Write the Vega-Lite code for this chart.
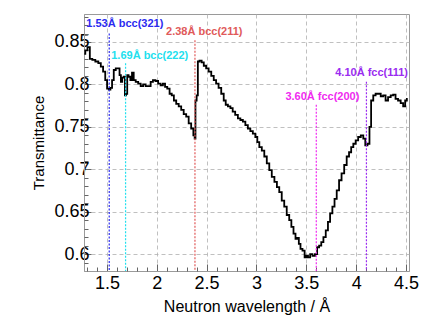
{
  "$schema": "https://vega.github.io/schema/vega-lite/v6.json",
  "width": 325,
  "height": 257,
  "autosize": {"type": "none"},
  "padding": {"left": 84, "top": 14, "right": 14, "bottom": 51},
  "background": "white",
  "config": {
    "view": {"stroke": "#9a9a9a", "strokeWidth": 1},
    "font": "Liberation Sans",
    "axis": {
      "labelFont": "Liberation Sans",
      "titleFont": "Liberation Sans",
      "labelColor": "black",
      "titleColor": "black",
      "titleFontWeight": "normal",
      "domainColor": "#9a9a9a",
      "tickColor": "#666666",
      "gridColor": "#b0b0b0",
      "gridDash": [4, 3],
      "gridWidth": 0.8
    }
  },
  "datasets": {
    "curve": [
      {"w": 1.273, "t": 0.836}, {"w": 1.293, "t": 0.840}, {"w": 1.317, "t": 0.844}, {"w": 1.34, "t": 0.830},
      {"w": 1.367, "t": 0.829}, {"w": 1.40, "t": 0.827}, {"w": 1.427, "t": 0.825}, {"w": 1.45, "t": 0.821},
      {"w": 1.473, "t": 0.815}, {"w": 1.493, "t": 0.805}, {"w": 1.51, "t": 0.795}, {"w": 1.527, "t": 0.794},
      {"w": 1.543, "t": 0.796}, {"w": 1.56, "t": 0.805}, {"w": 1.577, "t": 0.817}, {"w": 1.60, "t": 0.819},
      {"w": 1.62, "t": 0.819}, {"w": 1.633, "t": 0.811}, {"w": 1.647, "t": 0.803}, {"w": 1.66, "t": 0.808},
      {"w": 1.677, "t": 0.809}, {"w": 1.683, "t": 0.787}, {"w": 1.70, "t": 0.789}, {"w": 1.707, "t": 0.811},
      {"w": 1.727, "t": 0.809}, {"w": 1.743, "t": 0.805}, {"w": 1.76, "t": 0.814}, {"w": 1.777, "t": 0.805},
      {"w": 1.80, "t": 0.803}, {"w": 1.827, "t": 0.801}, {"w": 1.85, "t": 0.798}, {"w": 1.877, "t": 0.800},
      {"w": 1.90, "t": 0.798}, {"w": 1.927, "t": 0.798}, {"w": 1.95, "t": 0.803}, {"w": 1.973, "t": 0.805},
      {"w": 2.0, "t": 0.804}, {"w": 2.027, "t": 0.801}, {"w": 2.05, "t": 0.799}, {"w": 2.073, "t": 0.801},
      {"w": 2.093, "t": 0.797}, {"w": 2.117, "t": 0.795}, {"w": 2.14, "t": 0.789}, {"w": 2.16, "t": 0.787},
      {"w": 2.183, "t": 0.781}, {"w": 2.207, "t": 0.777}, {"w": 2.233, "t": 0.774}, {"w": 2.257, "t": 0.770},
      {"w": 2.283, "t": 0.765}, {"w": 2.307, "t": 0.762}, {"w": 2.333, "t": 0.754}, {"w": 2.357, "t": 0.748},
      {"w": 2.377, "t": 0.740}, {"w": 2.383, "t": 0.736}, {"w": 2.393, "t": 0.781}, {"w": 2.407, "t": 0.787},
      {"w": 2.417, "t": 0.827}, {"w": 2.44, "t": 0.828}, {"w": 2.46, "t": 0.826}, {"w": 2.483, "t": 0.822},
      {"w": 2.507, "t": 0.819}, {"w": 2.533, "t": 0.815}, {"w": 2.56, "t": 0.810}, {"w": 2.583, "t": 0.805},
      {"w": 2.607, "t": 0.801}, {"w": 2.633, "t": 0.796}, {"w": 2.66, "t": 0.789}, {"w": 2.683, "t": 0.781},
      {"w": 2.70, "t": 0.776}, {"w": 2.727, "t": 0.774}, {"w": 2.75, "t": 0.772}, {"w": 2.773, "t": 0.768},
      {"w": 2.80, "t": 0.764}, {"w": 2.827, "t": 0.760}, {"w": 2.85, "t": 0.758}, {"w": 2.877, "t": 0.756},
      {"w": 2.90, "t": 0.752}, {"w": 2.927, "t": 0.748}, {"w": 2.95, "t": 0.745}, {"w": 2.977, "t": 0.742},
      {"w": 3.0, "t": 0.738}, {"w": 3.017, "t": 0.732}, {"w": 3.04, "t": 0.726}, {"w": 3.067, "t": 0.722},
      {"w": 3.09, "t": 0.715}, {"w": 3.117, "t": 0.707}, {"w": 3.14, "t": 0.699}, {"w": 3.167, "t": 0.691},
      {"w": 3.193, "t": 0.685}, {"w": 3.217, "t": 0.679}, {"w": 3.24, "t": 0.673}, {"w": 3.267, "t": 0.663},
      {"w": 3.29, "t": 0.656}, {"w": 3.317, "t": 0.646}, {"w": 3.34, "t": 0.640}, {"w": 3.36, "t": 0.632},
      {"w": 3.383, "t": 0.624}, {"w": 3.40, "t": 0.618}, {"w": 3.417, "t": 0.619}, {"w": 3.433, "t": 0.612},
      {"w": 3.45, "t": 0.606}, {"w": 3.473, "t": 0.604}, {"w": 3.493, "t": 0.596}, {"w": 3.507, "t": 0.598},
      {"w": 3.527, "t": 0.596}, {"w": 3.55, "t": 0.600}, {"w": 3.573, "t": 0.598}, {"w": 3.60, "t": 0.600},
      {"w": 3.617, "t": 0.608}, {"w": 3.64, "t": 0.610}, {"w": 3.66, "t": 0.614}, {"w": 3.683, "t": 0.620},
      {"w": 3.707, "t": 0.628}, {"w": 3.727, "t": 0.638}, {"w": 3.75, "t": 0.648}, {"w": 3.773, "t": 0.656},
      {"w": 3.793, "t": 0.665}, {"w": 3.817, "t": 0.675}, {"w": 3.84, "t": 0.687}, {"w": 3.867, "t": 0.695},
      {"w": 3.893, "t": 0.705}, {"w": 3.917, "t": 0.715}, {"w": 3.94, "t": 0.720}, {"w": 3.96, "t": 0.726},
      {"w": 3.983, "t": 0.730}, {"w": 4.007, "t": 0.734}, {"w": 4.033, "t": 0.738}, {"w": 4.06, "t": 0.740},
      {"w": 4.083, "t": 0.736}, {"w": 4.10, "t": 0.728}, {"w": 4.127, "t": 0.730}, {"w": 4.14, "t": 0.750},
      {"w": 4.16, "t": 0.781}, {"w": 4.183, "t": 0.787}, {"w": 4.207, "t": 0.789}, {"w": 4.233, "t": 0.789},
      {"w": 4.26, "t": 0.786}, {"w": 4.283, "t": 0.787}, {"w": 4.307, "t": 0.781}, {"w": 4.333, "t": 0.785},
      {"w": 4.36, "t": 0.787}, {"w": 4.383, "t": 0.788}, {"w": 4.407, "t": 0.783}, {"w": 4.433, "t": 0.781},
      {"w": 4.46, "t": 0.778}, {"w": 4.483, "t": 0.774}, {"w": 4.50, "t": 0.781}, {"w": 4.517, "t": 0.783}
    ],
    "peaks": [
      {"peak": "1.53Å bcc(321)", "w": 1.523, "top": 0.860, "lx": 1.293, "ly": 0.871},
      {"peak": "1.69Å bcc(222)", "w": 1.687, "top": 0.825, "lx": 1.543, "ly": 0.834},
      {"peak": "2.38Å bcc(211)", "w": 2.383, "top": 0.852, "lx": 2.093, "ly": 0.862},
      {"peak": "3.60Å fcc(200)", "w": 3.60, "top": 0.776, "lx": 3.29, "ly": 0.785},
      {"peak": "4.10Å fcc(111)", "w": 4.103, "top": 0.803, "lx": 3.79, "ly": 0.813}
    ]
  },
  "resolve": {"axis": {"x": "independent", "y": "independent"}},
  "layer": [
    {
      "data": {"name": "curve"},
      "mark": {"type": "line", "interpolate": "step", "color": "black", "strokeWidth": 1.8},
      "encoding": {
        "x": {
          "field": "w", "type": "quantitative",
          "scale": {"domain": [1.27, 4.53], "nice": false, "zero": false},
          "axis": {
            "orient": "bottom", "title": "Neutron wavelength / Å",
            "values": [1.5, 2, 2.5, 3, 3.5, 4, 4.5],
            "format": "~g", "labelFontSize": 18, "titleFontSize": 16,
            "tickSize": -7, "labelPadding": 10, "titlePadding": 6,
            "grid": true, "labelFlush": false, "labelOverlap": false
          }
        },
        "y": {
          "field": "t", "type": "quantitative",
          "scale": {"domain": [0.58, 0.883], "nice": false, "zero": false},
          "axis": {
            "orient": "left", "title": "Transmittance",
            "values": [0.6, 0.65, 0.7, 0.75, 0.8, 0.85],
            "format": "~g", "labelFontSize": 18, "titleFontSize": 15,
            "tickSize": -7, "labelPadding": 2, "titlePadding": 7,
            "grid": true, "labelFlush": false, "labelOverlap": false
          }
        }
      }
    },
    {
      "data": {"name": "peaks"},
      "mark": {"type": "rule", "strokeDash": [2, 1.5], "strokeWidth": 1.2},
      "encoding": {
        "x": {
          "field": "w", "type": "quantitative",
          "axis": {
            "orient": "bottom", "title": null, "labels": false, "grid": false, "domain": false,
            "values": [1.3, 1.4, 1.6, 1.7, 1.8, 1.9, 2.1, 2.2, 2.3, 2.4, 2.6, 2.7, 2.8, 2.9, 3.1, 3.2, 3.3, 3.4, 3.6, 3.7, 3.8, 3.9, 4.1, 4.2, 4.3, 4.4],
            "tickSize": -4
          }
        },
        "y": {
          "field": "top", "type": "quantitative",
          "axis": {
            "orient": "left", "title": null, "labels": false, "grid": false, "domain": false,
            "values": [0.59, 0.61, 0.62, 0.63, 0.64, 0.66, 0.67, 0.68, 0.69, 0.71, 0.72, 0.73, 0.74, 0.76, 0.77, 0.78, 0.79, 0.81, 0.82, 0.83, 0.84, 0.86, 0.87, 0.88],
            "tickSize": -4
          }
        },
        "y2": {"datum": 0.58},
        "color": {
          "field": "peak", "type": "nominal", "legend": null,
          "scale": {
            "domain": ["1.53Å bcc(321)", "1.69Å bcc(222)", "2.38Å bcc(211)", "3.60Å fcc(200)", "4.10Å fcc(111)"],
            "range": ["#2b2bf0", "#22e0ee", "#e05a5a", "#f02af0", "#9a2cf0"]
          }
        }
      }
    },
    {
      "data": {"name": "peaks"},
      "mark": {"type": "text", "align": "left", "baseline": "middle", "fontWeight": "bold", "fontSize": 11, "font": "Liberation Sans"},
      "encoding": {
        "x": {"field": "lx", "type": "quantitative", "axis": null},
        "y": {"field": "ly", "type": "quantitative", "axis": null},
        "text": {"field": "peak"},
        "color": {"field": "peak", "type": "nominal", "legend": null}
      }
    }
  ]
}
